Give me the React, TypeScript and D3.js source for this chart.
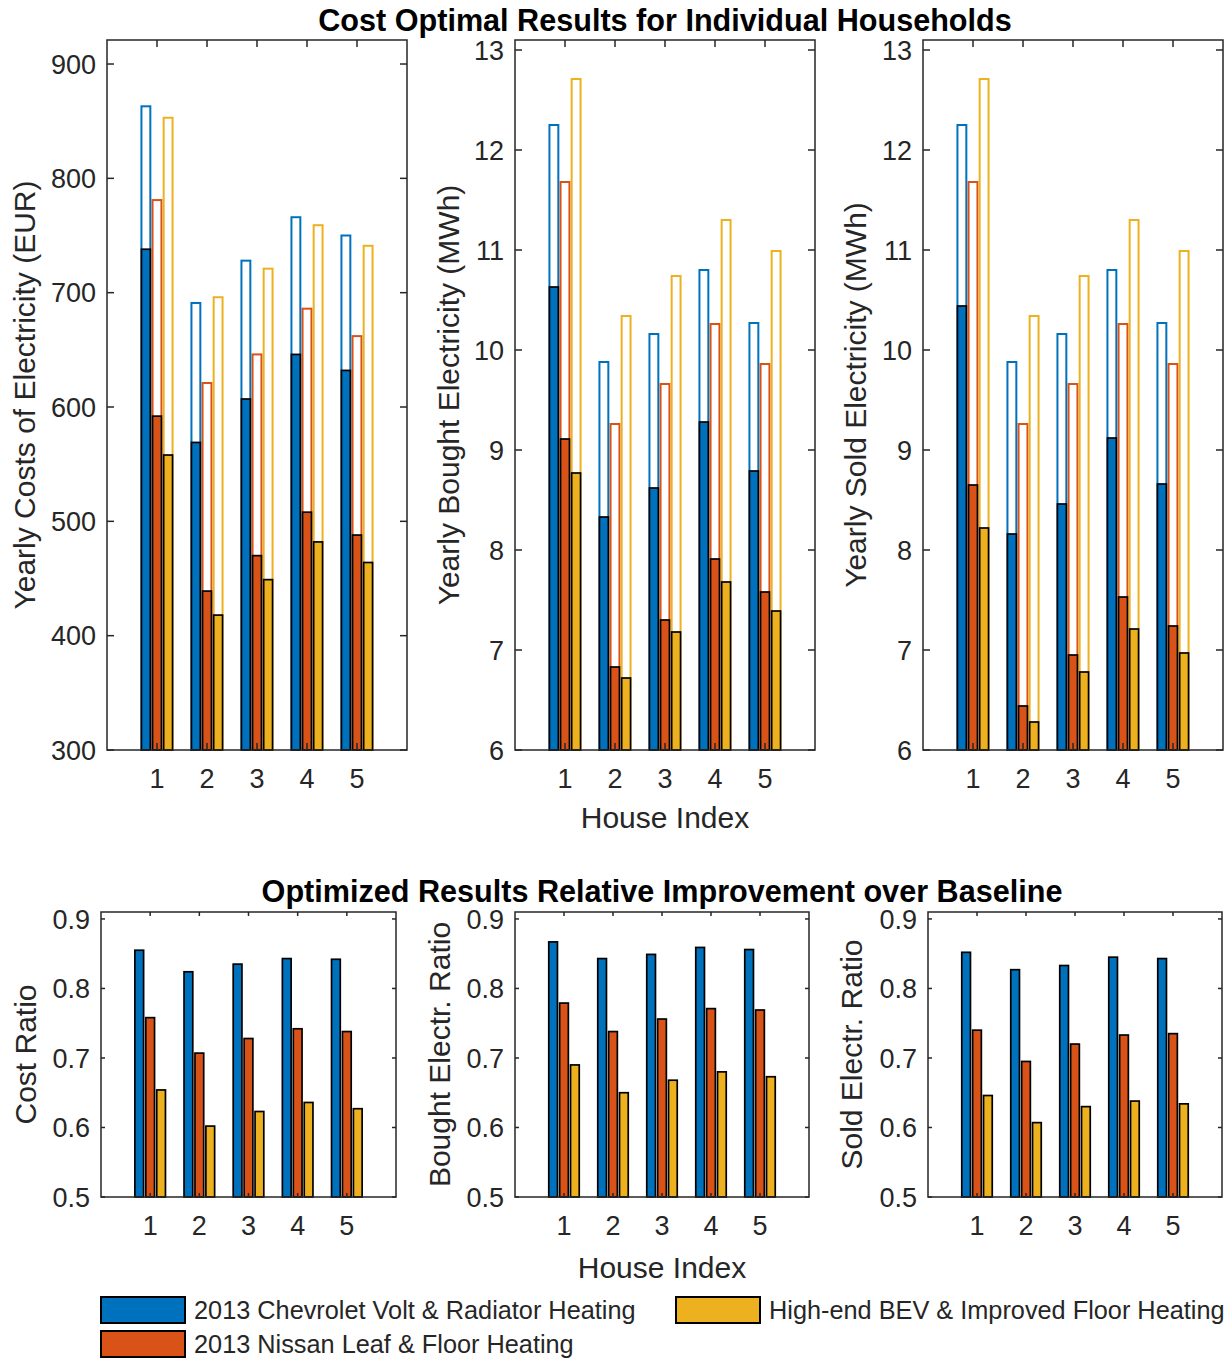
import React from "react";
import { scaleLinear } from "d3";

// house indices on the x axis
const houses = [1, 2, 3, 4, 5];

const seriesNames = [
  "2013 Chevrolet Volt & Radiator Heating",
  "2013 Nissan Leaf & Floor Heating",
  "High-end BEV & Improved Floor Heating",
];
const seriesColors = ["#0072BD", "#D95319", "#EDB120"];

// yearly costs (EUR): baseline (outlined) and optimized (filled)
const costBaseVolt = [863, 691, 728, 766, 750];
const costBaseLeaf = [781, 621, 646, 686, 662];
const costBaseBev = [853, 696, 721, 759, 741];
const costOptVolt = [738, 569, 607, 646, 632];
const costOptLeaf = [592, 439, 470, 508, 488];
const costOptBev = [558, 418, 449, 482, 464];

// yearly bought electricity (MWh)
const boughtBaseVolt = [12.25, 9.88, 10.16, 10.8, 10.27];
const boughtBaseLeaf = [11.68, 9.26, 9.66, 10.26, 9.86];
const boughtBaseBev = [12.71, 10.34, 10.74, 11.3, 10.99];
const boughtOptVolt = [10.63, 8.33, 8.62, 9.28, 8.79];
const boughtOptLeaf = [9.11, 6.83, 7.3, 7.91, 7.58];
const boughtOptBev = [8.77, 6.72, 7.18, 7.68, 7.39];

// yearly sold electricity (MWh)
const soldBaseVolt = [12.25, 9.88, 10.16, 10.8, 10.27];
const soldBaseLeaf = [11.68, 9.26, 9.66, 10.26, 9.86];
const soldBaseBev = [12.71, 10.34, 10.74, 11.3, 10.99];
const soldOptVolt = [10.44, 8.16, 8.46, 9.12, 8.66];
const soldOptLeaf = [8.65, 6.44, 6.95, 7.53, 7.24];
const soldOptBev = [8.22, 6.28, 6.78, 7.21, 6.97];

// ratios optimized / baseline
const costRatioVolt = [0.855, 0.824, 0.835, 0.843, 0.842];
const costRatioLeaf = [0.758, 0.707, 0.728, 0.742, 0.738];
const costRatioBev = [0.654, 0.602, 0.623, 0.636, 0.627];
const boughtRatioVolt = [0.867, 0.843, 0.849, 0.859, 0.856];
const boughtRatioLeaf = [0.779, 0.738, 0.756, 0.771, 0.769];
const boughtRatioBev = [0.69, 0.65, 0.668, 0.68, 0.673];
const soldRatioVolt = [0.852, 0.827, 0.833, 0.845, 0.843];
const soldRatioLeaf = [0.74, 0.695, 0.72, 0.733, 0.735];
const soldRatioBev = [0.646, 0.607, 0.63, 0.638, 0.634];

const costTicks = [300, 400, 500, 600, 700, 800, 900];
const mwhTicks = [6, 7, 8, 9, 10, 11, 12, 13];
const ratioTicks = [0.5, 0.6, 0.7, 0.8, 0.9];

const FONT = "'Liberation Sans', Arial, Helvetica, sans-serif";
const AXIS = "#262626";
const TICK_FS = 27;
const LABEL_FS = 30;

// matlab grouped bar layout: 3 bars, offsets and width in x units
const barOffsets = [-2 / 9, 0, 2 / 9];
const barWidth = 0.8 * (2 / 3) / 3;

type PanelProps = {
  x0: number;
  x1: number;
  y0: number;
  y1: number;
  yDomain: [number, number];
  yTicks: number[];
  fmt: (v: number) => string;
  base?: number[][];
  opt: number[][];
  ylabel: string;
  labelGap: number;
  tickLen: number;
};

function Panel(p: PanelProps) {
  const x = scaleLinear().domain([0, 6]).range([p.x0, p.x1]);
  const y = scaleLinear().domain(p.yDomain).range([p.y1, p.y0]);
  const bw = x(barWidth) - x(0);
  const yc = (p.y0 + p.y1) / 2;
  return (
    <g>
      {p.base &&
        p.base.map((vals, s) =>
          vals.map((v, i) => (
            <rect
              key={`b${s}-${i}`}
              x={x(houses[i] + barOffsets[s]) - bw / 2}
              y={y(v)}
              width={bw}
              height={y(p.yDomain[0]) - y(v)}
              fill="none"
              stroke={seriesColors[s]}
              strokeWidth={2}
            />
          ))
        )}
      {p.opt.map((vals, s) =>
        vals.map((v, i) => (
          <rect
            key={`o${s}-${i}`}
            x={x(houses[i] + barOffsets[s]) - bw / 2}
            y={y(v)}
            width={bw}
            height={y(p.yDomain[0]) - y(v)}
            fill={seriesColors[s]}
            stroke="#000"
            strokeWidth={1.7}
          />
        ))
      )}
      {/* box */}
      <rect
        x={p.x0}
        y={p.y0}
        width={p.x1 - p.x0}
        height={p.y1 - p.y0}
        fill="none"
        stroke={AXIS}
        strokeWidth={1.5}
      />
      {/* y ticks, left and right */}
      {p.yTicks.map((t) => (
        <g key={`yt${t}`}>
          <line x1={p.x0} x2={p.x0 + p.tickLen} y1={y(t)} y2={y(t)} stroke={AXIS} strokeWidth={1.5} />
          <line x1={p.x1} x2={p.x1 - p.tickLen} y1={y(t)} y2={y(t)} stroke={AXIS} strokeWidth={1.5} />
          <text
            x={p.x0 - 11}
            y={y(t)}
            dy="0.36em"
            textAnchor="end"
            fontSize={TICK_FS}
            fill={AXIS}
          >
            {p.fmt(t)}
          </text>
        </g>
      ))}
      {/* x ticks, top and bottom */}
      {houses.map((h) => (
        <g key={`xt${h}`}>
          <line x1={x(h)} x2={x(h)} y1={p.y1} y2={p.y1 - p.tickLen} stroke={AXIS} strokeWidth={1.5} />
          <line x1={x(h)} x2={x(h)} y1={p.y0} y2={p.y0 + p.tickLen} stroke={AXIS} strokeWidth={1.5} />
          <text x={x(h)} y={p.y1 + 38} textAnchor="middle" fontSize={TICK_FS} fill={AXIS}>
            {h}
          </text>
        </g>
      ))}
      <text
        transform={`translate(${p.x0 - p.labelGap},${yc}) rotate(-90)`}
        textAnchor="middle"
        fontSize={LABEL_FS}
        fill={AXIS}
      >
        {p.ylabel}
      </text>
    </g>
  );
}

export default function App() {
  const intFmt = (v: number) => String(v);
  const decFmt = (v: number) => v.toFixed(1);
  const topY: [number, number] = [40, 750];
  const botY: [number, number] = [912, 1197];
  const legendRows = [
    { x: 101, y: 1297, s: 0 },
    { x: 676, y: 1297, s: 2 },
    { x: 101, y: 1331, s: 1 },
  ];
  return (
    <svg
      width={1231}
      height={1359}
      style={{ position: "absolute", left: 0, top: 0, display: "block", background: "#fff" }}
      fontFamily={FONT}
    >
      <rect width={1231} height={1359} fill="#fff" />
      <text x={665} y={31} textAnchor="middle" fontSize={30.6} fontWeight="bold" fill="#000">
        Cost Optimal Results for Individual Households
      </text>
      <Panel
        x0={107} x1={407} y0={topY[0]} y1={topY[1]}
        yDomain={[300, 921]} yTicks={costTicks} fmt={intFmt}
        base={[costBaseVolt, costBaseLeaf, costBaseBev]}
        opt={[costOptVolt, costOptLeaf, costOptBev]}
        ylabel="Yearly Costs of Electricity (EUR)" labelGap={72} tickLen={7}
      />
      <Panel
        x0={515} x1={815} y0={topY[0]} y1={topY[1]}
        yDomain={[6, 13.1]} yTicks={mwhTicks} fmt={intFmt}
        base={[boughtBaseVolt, boughtBaseLeaf, boughtBaseBev]}
        opt={[boughtOptVolt, boughtOptLeaf, boughtOptBev]}
        ylabel="Yearly Bought Electricity (MWh)" labelGap={56} tickLen={7}
      />
      <Panel
        x0={923} x1={1223} y0={topY[0]} y1={topY[1]}
        yDomain={[6, 13.1]} yTicks={mwhTicks} fmt={intFmt}
        base={[soldBaseVolt, soldBaseLeaf, soldBaseBev]}
        opt={[soldOptVolt, soldOptLeaf, soldOptBev]}
        ylabel="Yearly Sold Electricity (MWh)" labelGap={57} tickLen={7}
      />
      <text x={665} y={828} textAnchor="middle" fontSize={LABEL_FS} fill={AXIS}>
        House Index
      </text>

      <text x={662} y={902} textAnchor="middle" fontSize={30.6} fontWeight="bold" fill="#000">
        Optimized Results Relative Improvement over Baseline
      </text>
      <Panel
        x0={101} x1={396} y0={botY[0]} y1={botY[1]}
        yDomain={[0.5, 0.91]} yTicks={ratioTicks} fmt={decFmt}
        opt={[costRatioVolt, costRatioLeaf, costRatioBev]}
        ylabel="Cost Ratio" labelGap={65} tickLen={4}
      />
      <Panel
        x0={515} x1={809} y0={botY[0]} y1={botY[1]}
        yDomain={[0.5, 0.91]} yTicks={ratioTicks} fmt={decFmt}
        opt={[boughtRatioVolt, boughtRatioLeaf, boughtRatioBev]}
        ylabel="Bought Electr. Ratio" labelGap={65} tickLen={4}
      />
      <Panel
        x0={928} x1={1222} y0={botY[0]} y1={botY[1]}
        yDomain={[0.5, 0.91]} yTicks={ratioTicks} fmt={decFmt}
        opt={[soldRatioVolt, soldRatioLeaf, soldRatioBev]}
        ylabel="Sold Electr. Ratio" labelGap={66} tickLen={4}
      />
      <text x={662} y={1278} textAnchor="middle" fontSize={LABEL_FS} fill={AXIS}>
        House Index
      </text>

      {/* legend */}
      {legendRows.map((r) => (
        <g key={`lg${r.s}`}>
          <rect x={r.x} y={r.y} width={84} height={26} fill={seriesColors[r.s]} stroke="#000" strokeWidth={2} />
          <text x={r.x + 93} y={r.y + 22} fontSize={25.3} fill={AXIS}>
            {seriesNames[r.s]}
          </text>
        </g>
      ))}
    </svg>
  );
}
